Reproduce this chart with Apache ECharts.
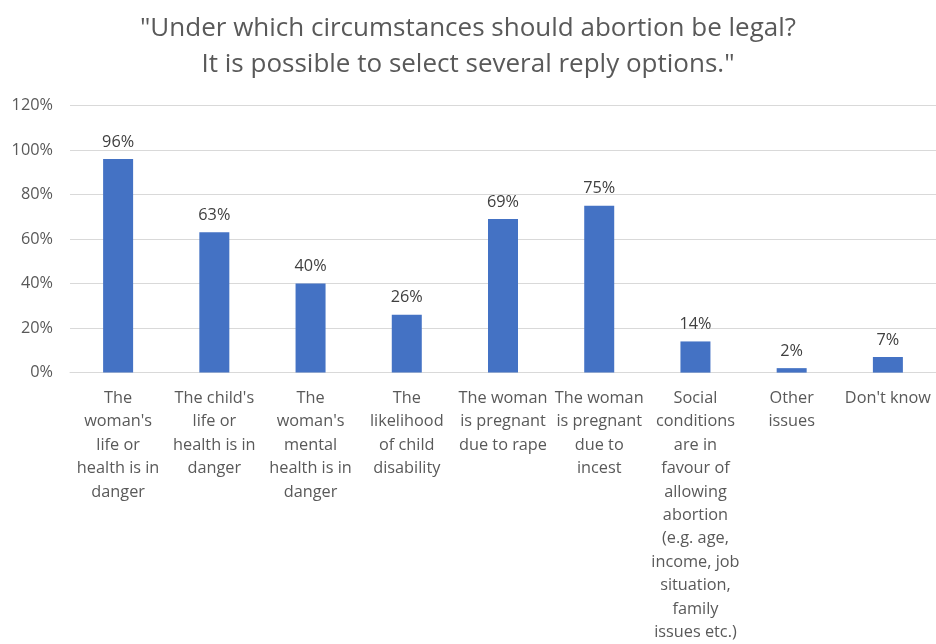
<!DOCTYPE html>
<html><head><meta charset="utf-8">
<script src="https://cdn.jsdelivr.net/npm/echarts@6/dist/echarts.min.js"></script>
<style>html,body{margin:0;padding:0;background:#fff}#c{width:936px;height:644px}</style>
</head><body><div id="c"></div>
<script>
const titleLines = ['"Under which circumstances should abortion be legal?', 'It is possible to select several reply options."'];
const categories = [
  "The\nwoman's\nlife or\nhealth is in\ndanger",
  "The child's\nlife or\nhealth is in\ndanger",
  "The\nwoman's\nmental\nhealth is in\ndanger",
  "The\nlikelihood\nof child\ndisability",
  "The woman\nis pregnant\ndue to rape",
  "The woman\nis pregnant\ndue to\nincest",
  "Social\nconditions\nare in\nfavour of\nallowing\nabortion\n(e.g. age,\nincome, job\nsituation,\nfamily\nissues etc.)",
  "Other\nissues",
  "Don't know"
];
const values = [96, 63, 40, 26, 69, 75, 14, 2, 7];
const yTicks = [0, 20, 40, 60, 80, 100, 120];

const FONT = "'Open Sans', sans-serif";
const chart = echarts.init(document.getElementById('c'), null, {renderer: 'canvas'});
chart.setOption({
  animation: false,
  title: {
    text: titleLines.join('\n'),
    left: 'center', top: 6,
    textStyle: {fontFamily: FONT, fontSize: 26, fontWeight: 'normal', color: '#595959', lineHeight: 36}
  },
  grid: {left: 70, right: -1, top: 105.5, bottom: 268.5, containLabel: false},
  xAxis: {
    type: 'category', data: categories,
    axisLine: {lineStyle: {color: '#d9d9d9', width: 1}},
    axisTick: {show: false},
    axisLabel: {interval: 0, margin: 14, fontFamily: FONT, fontSize: 16.3, color: '#595959', lineHeight: 23.4, align: 'center'}
  },
  yAxis: {
    type: 'value', min: yTicks[0], max: yTicks[yTicks.length - 1], interval: 20,
    axisLine: {show: false}, axisTick: {show: false},
    splitLine: {lineStyle: {color: '#d9d9d9', width: 1}},
    axisLabel: {formatter: v => v + '%', fontFamily: FONT, fontSize: 16.3, color: '#595959', margin: 17}
  },
  series: [{
    type: 'bar', data: values, barWidth: 30,
    itemStyle: {color: '#4472c4'},
    label: {show: true, position: 'top', distance: 9, formatter: p => p.value + '%', fontFamily: FONT, fontSize: 16.3, color: '#404040'}
  }]
});
</script></body></html>
